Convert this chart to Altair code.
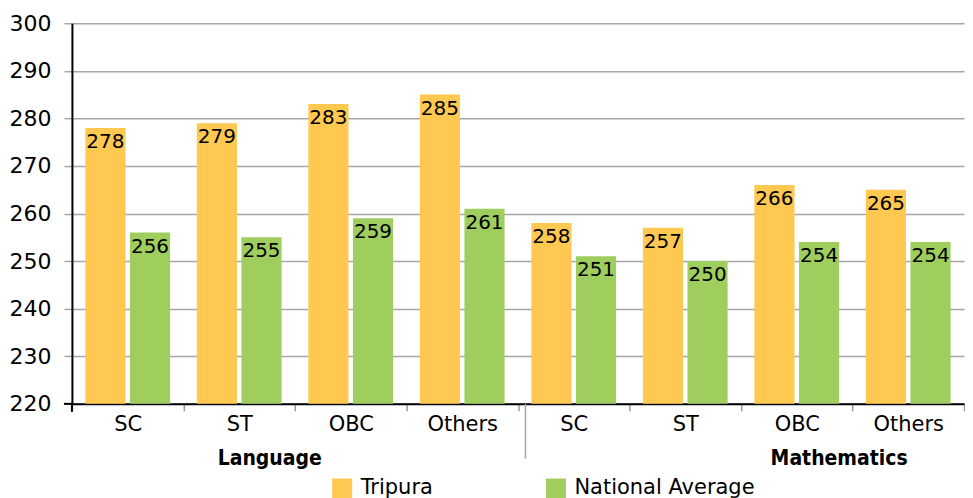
import altair as alt
import pandas as pd

groups = ["Language"] * 4 + ["Mathematics"] * 4
categories = ["SC", "ST", "OBC", "Others", "SC", "ST", "OBC", "Others"]
tripura = [278, 279, 283, 285, 258, 257, 266, 265]
national = [256, 255, 259, 261, 251, 250, 254, 254]
series = ["Tripura", "National Average"]
colors = ["#FFC850", "#9FCE5F"]

rows = []
for g, c, t, n in zip(groups, categories, tripura, national):
    key = g + "|" + c
    rows.append({"key": key, "series": series[0], "value": t})
    rows.append({"key": key, "series": series[1], "value": n})
df = pd.DataFrame(rows)
order = [g + "|" + c for g, c in zip(groups, categories)]

FONT = "DejaVu Sans"
BOLD = "DejaVu Sans Condensed, Liberation Sans Narrow, Liberation Sans"

x = alt.X("key:N", sort=order, title=None,
          scale=alt.Scale(paddingInner=0, paddingOuter=0),
          axis=alt.Axis(labelExpr="split(datum.label, '|')[1]", labelAngle=0,
                        labelFont=FONT, labelFontSize=21, labelColor="#000",
                        labelPadding=3, tickBand="extent", tickColor="#999",
                        tickSize=7, tickWidth=1.5, domainColor="#000",
                        domainWidth=2, grid=False))
xoff = alt.XOffset("series:N", sort=series,
                   scale=alt.Scale(paddingInner=0.1, paddingOuter=0.3))
y = alt.Y("value:Q", title=None,
          scale=alt.Scale(domain=[220, 300], nice=False, zero=False),
          axis=alt.Axis(values=list(range(220, 301, 10)), labelFont=FONT,
                        labelFontSize=22, labelColor="#000", labelPadding=13,
                        tickColor="#a6a6a6", tickSize=8, tickWidth=1.5,
                        gridColor="#a6a6a6", gridWidth=1.5,
                        domainColor="#000", domainWidth=2))

base = alt.Chart(df)
bars = base.mark_bar().encode(
    x=x, xOffset=xoff, y=y, y2=alt.datum(220),
    color=alt.Color("series:N", sort=series,
                    scale=alt.Scale(domain=series, range=colors),
                    legend=alt.Legend(title=None, orient="none", legendX=260,
                                      legendY=455, direction="horizontal",
                                      symbolType="square", symbolSize=400,
                                      symbolStrokeWidth=0, labelFont=FONT,
                                      labelFontSize=21, labelColor="#000",
                                      labelOffset=8, labelLimit=400,
                                      columnPadding=112)))
labels = base.mark_text(baseline="top", dy=4, font=FONT, fontSize=20,
                        color="#000").encode(
    x=x, xOffset=xoff, y=y, text=alt.Text("value:Q"))

one = pd.DataFrame({"a": [0]})
sep = alt.Chart(one).mark_rule(color="#a6a6a6", strokeWidth=1.5).encode(
    x=alt.value(454), y=alt.value(381), y2=alt.value(436))
vtick = alt.Chart(one).mark_rule(color="#000", strokeWidth=2).encode(
    x=alt.value(0), y=alt.value(380), y2=alt.value(389))
htick = alt.Chart(one).mark_rule(color="#000", strokeWidth=2).encode(
    x=alt.value(-8), x2=alt.value(1), y=alt.value(381))

lang = alt.Chart(one).mark_text(
    font=BOLD, fontWeight="bold", fontSize=21,
    color="#000", baseline="middle").encode(
    x=alt.value(198), y=alt.value(436), text=alt.value("Language"))
math = alt.Chart(one).mark_text(
    font=BOLD, fontWeight="bold", fontSize=21,
    color="#000", baseline="middle").encode(
    x=alt.value(768), y=alt.value(436), text=alt.value("Mathematics"))

chart = alt.layer(bars, labels, sep, vtick, htick, lang, math).properties(
    width=893, height=381,
    padding={"left": 1, "top": 4, "right": 0, "bottom": 0}
).configure_view(stroke=None)

chart.save("out.html", embed_options={"renderer": "svg", "actions": False})
